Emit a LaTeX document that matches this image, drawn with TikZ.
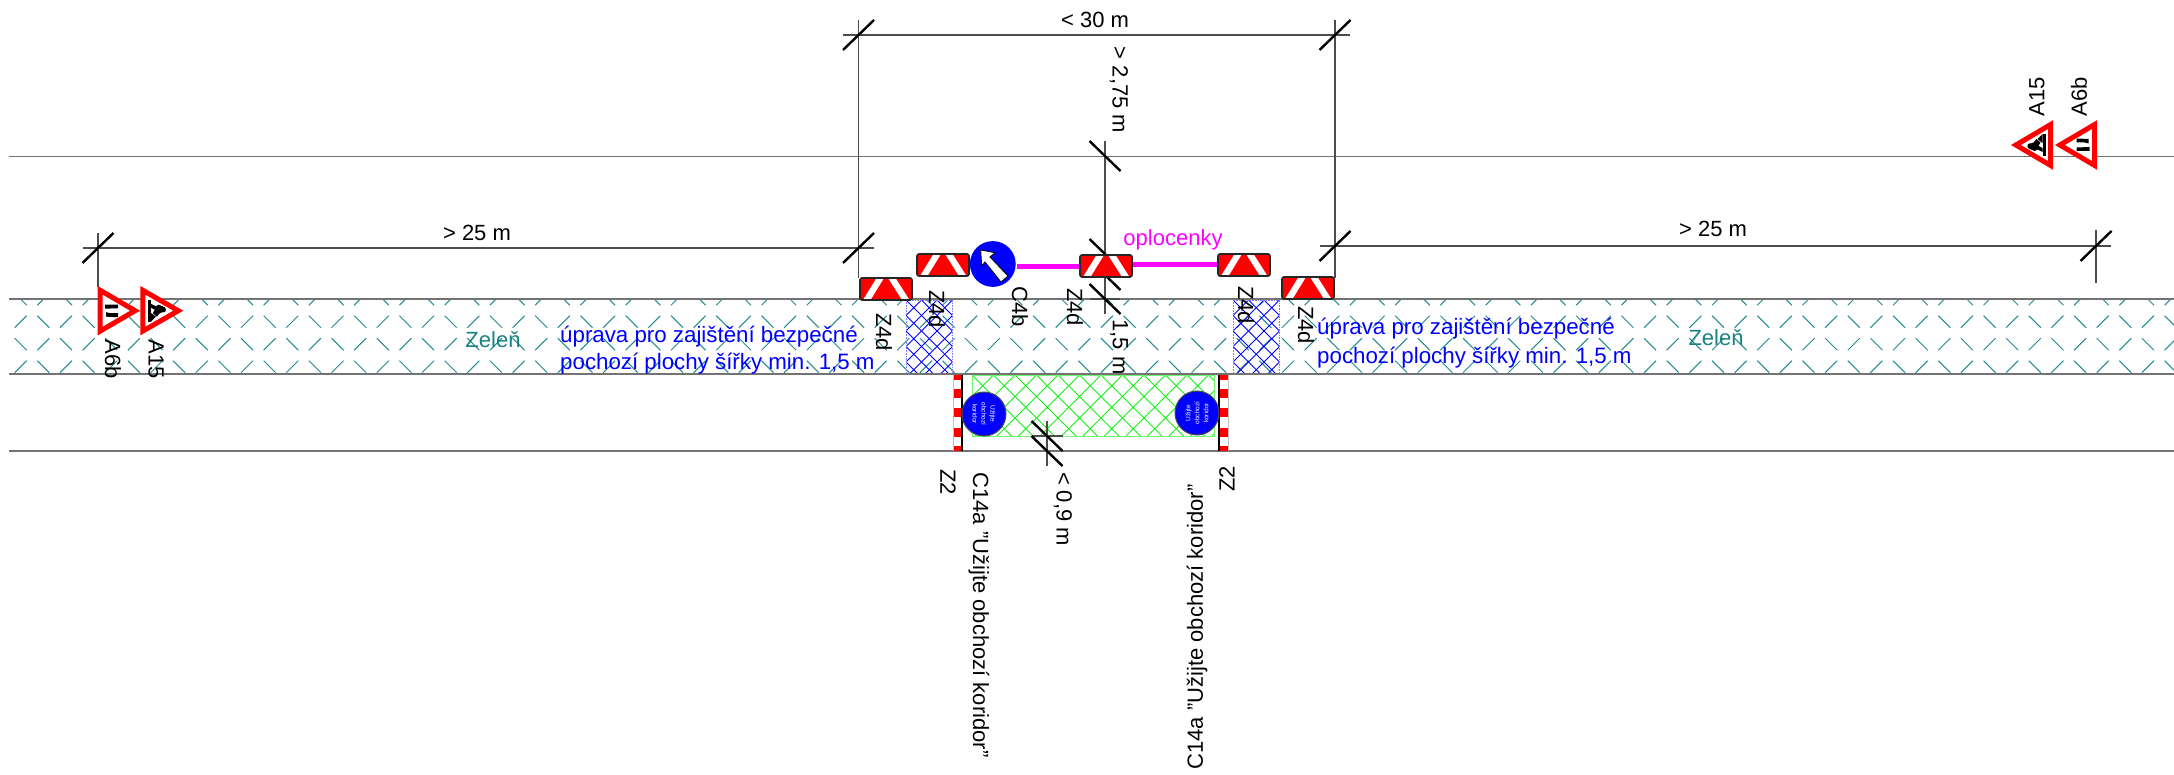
\documentclass[tikz,border=0pt]{standalone}
\usepackage{fontspec}
\setmainfont{Liberation Sans}
\definecolor{mag}{RGB}{255,0,255}
\definecolor{pureblue}{RGB}{0,0,255}
\definecolor{purered}{RGB}{255,0,0}
\definecolor{hgreen}{RGB}{20,240,20}
\definecolor{hteal}{RGB}{35,140,145}
\definecolor{tteal}{RGB}{25,130,130}
\tikzset{
 roadline/.style={draw=black!55,line width=1.3pt},
 dimline/.style={draw=black!70,line width=1.1pt},
 ticks/.style={draw=black,line width=2.4pt},
 lbl/.style={font=\fontsize{22}{22}\selectfont,inner sep=0pt,text=black},
 lblD/.style={lbl,rotate=-90},
 lblU/.style={lbl,rotate=90},
 bluetxt/.style={font=\fontsize{22.3}{26}\selectfont,inner sep=0pt,text=pureblue,anchor=west},
 greentxt/.style={font=\fontsize{22}{22}\selectfont,inner sep=0pt,text=tteal},
 fence/.style={draw=mag,line width=5pt},
 hatchline/.style={line width=1pt},
 warn/.style={draw=purered,line width=5pt,fill=white,line join=miter},
 roundsign/.style={circle,fill=pureblue,draw=black!70,line width=1pt,minimum size=44pt,inner sep=0pt},
 tinytext/.style={align=center,text=white,font=\fontsize{6.5}{9}\selectfont,inner sep=0pt},
}
\newcommand{\tickup}[2]{\draw[ticks] (#1-15.5,#2+15) -- (#1+15.5,#2-15);}
\newcommand{\tickdn}[2]{\draw[ticks] (#1-15.5,#2-15) -- (#1+15.5,#2+15);}
\newcommand{\zsign}[3]{%
 \begin{scope}[shift={(#1,#2)}]
  \fill[purered,rounded corners=2pt] (0,0) rectangle (52,22);
  \fill[white] (3,22) -- (16.5,0) -- (24,0) -- (10.5,22) -- cycle;
  \fill[white] (28,0) -- (35.5,0) -- (49.5,22) -- (42,22) -- cycle;
  \draw[black!85,line width=1.6pt,rounded corners=2pt] (0,0) rectangle (52,22);
  \coordinate (#3) at (26,11);
 \end{scope}}
\newcommand{\barrier}[3]{%
 \begin{scope}[shift={(#1,375)}]
  \fill[white] (0,0) rectangle (9,76);
  \foreach \yy/\ye in {0/5,14/23,33/42,53/62,71/76} {\fill[purered] (0,\yy) rectangle (9,\ye);}
  \draw[black!25,line width=1pt] (#3,0) -- (#3,76);
  \draw[black,line width=1.5pt] (#2,0) -- (#2,76);
 \end{scope}}
\newcommand{\workman}{%
 \fill[black] (5,-11) rectangle (8,11);
 \fill[black] (8,2) -- (8,11) -- (13,6) -- cycle;
 \fill[black] (8,-7) -- (13,-4.5) -- (16,-6) -- (22,-3.5) -- (21,1) -- (17,2.5) -- (14,6) -- (10,2.5) -- (12,-1) -- (8,-3) -- cycle;
 \fill[black] (20.5,-1) circle (2.7);}
\newcommand{\narrow}{%
 \fill[black] (0,-6) -- (13,-6) -- (13,-2.5) -- (0,-2) -- cycle;
 \fill[black] (1,6) -- (13,6.5) -- (13,2.5) -- (5,2.5) -- (1,1.5) -- cycle;}
\begin{document}
\begin{tikzpicture}[x=1pt,y=-1pt]
\useasboundingbox (0,0) rectangle (2174,775);
\fill[white] (0,0) rectangle (2174,775);
% green zone hatch
\begin{scope}
 \clip (10,299) rectangle (2174,374);
 \foreach \k in {-1,...,47} {
  \pgfmathsetmacro{\xa}{66+45.26*\k}
  \pgfmathsetmacro{\xb}{\xa+22.63}
  \foreach \yy/\ss in {299.2/-1,321.7/1,344.2/-1,366.7/1} {
   \draw[hteal,line width=1pt] (\xa-6,\yy+6*\ss) -- (\xa+6,\yy-6*\ss);
   \draw[hteal,line width=1pt] (\xb-6,\yy-6*\ss) -- (\xb+6,\yy+6*\ss);
  }
 }
\end{scope}
% blue hatch
\foreach \xl/\xr in {906/952,1233/1279} {
 \begin{scope}
  \clip (\xl,300) rectangle (\xr,374);
  \foreach \i in {-6,...,12} {
   \draw[pureblue,hatchline] (\xl+15.5*\i,300) -- ++(74,74);
   \draw[pureblue,hatchline] (\xl+15.5*\i,300) -- ++(-74,74);
  }
 \end{scope}
 \draw[pureblue!50,line width=.6pt,densely dotted] (\xl,300) rectangle (\xr,374);
}
% green hatch
\begin{scope}
 \clip (972,375) rectangle (1214,436);
 \foreach \i in {-4,...,17} {
  \draw[hgreen,hatchline] (972+21.5*\i,375) -- ++(61,61);
  \draw[hgreen,hatchline] (972+21.5*\i,375) -- ++(-61,61);
 }
\end{scope}
\draw[hgreen!60,line width=.7pt] (972,375) rectangle (1214,436);
% road lines
\coordinate (r1l) at (9,156.5); \coordinate (r1r) at (2174,156.5);
\coordinate (r2l) at (9,299); \coordinate (r2r) at (2174,299);
\coordinate (r3l) at (9,374); \coordinate (r3r) at (2174,374);
\coordinate (r4l) at (9,451); \coordinate (r4r) at (2174,451);
\draw[roadline] (r1l) -- (r1r);
\draw[roadline] (r2l) -- (r2r);
\draw[roadline] (r3l) -- (r3r);
\draw[roadline] (r4l) -- (r4r);
% dimensions
\draw[dimline] (843,35) -- (1350,35);
\draw[dimline] (858.5,20) -- (858.5,278);
\draw[dimline] (1335,20) -- (1335,278);
\draw[dimline] (1105,141) -- (1105,314);
\draw[dimline] (83,248) -- (874,248);
\draw[dimline] (98,233) -- (98,287);
\draw[dimline] (1320,246) -- (2111,246);
\draw[dimline] (2096,230) -- (2096,283);
\draw[dimline] (1090,299) -- (1120,299);
\draw[dimline] (1032,436) -- (1063,436);
\draw[dimline] (1047,421) -- (1047,466);
\tickup{858.5}{35} \tickup{1335}{35}
\tickup{98}{248} \tickup{858.5}{248}
\tickup{1335}{246} \tickup{2096}{246}
\tickdn{1105}{156} \tickdn{1105}{254} \tickdn{1105}{275} \tickdn{1105}{299}
\tickdn{1047}{436} \tickdn{1047}{451}
% fence
\coordinate (f1) at (1017,267); \coordinate (f2) at (1080,267);
\coordinate (f3) at (1132,265); \coordinate (f4) at (1218,265);
\draw[fence] (f1) -- (f2);
\draw[fence] (f3) -- (f4);
% Z4d signs
\zsign{860}{278}{s1}
\zsign{917}{254}{s2}
\zsign{1080}{255}{s3}
\zsign{1218}{254}{s4}
\zsign{1282}{277}{s5}
% C4b
\fill[pureblue] (992.8,264) circle (22.9);
\draw[fill=white,draw=black,line width=.8pt,line join=miter]
 (980.7,250) -- (995,252.7) -- (990,257) -- (1008,276) -- (1001,282) -- (985,262) -- (981.7,266) -- cycle;
% barriers
\barrier{953}{9}{0}
\barrier{1219}{0}{9}
% C14a
\node[roundsign] (c1) at (984,414) {};
\node[roundsign] (c2) at (1197,413) {};
\node[rotate=-90,tinytext] at (c1) {Užijte\\obchozí\\koridor};
\node[rotate=90,tinytext] at (c2) {Užijte\\obchozí\\koridor};
% triangles left
\begin{scope}[shift={(100.2,310.7)}]
 \draw[warn] (0,-20.4) -- (34.9,0) -- (0,20.4) -- cycle;
 \begin{scope}[shift={(5,0)}]\narrow\end{scope}
\end{scope}
\begin{scope}[shift={(142.8,310.7)}]
 \draw[warn] (0,-20.4) -- (35.5,0) -- (0,20.4) -- cycle;
 \workman
\end{scope}
% triangles right
\begin{scope}[shift={(2050.5,145)}]
 \draw[warn] (0,-20.4) -- (-34.6,0) -- (0,20.4) -- cycle;
 \begin{scope}[rotate=180]\workman\end{scope}
\end{scope}
\begin{scope}[shift={(2094.5,145)}]
 \draw[warn] (0,-20.4) -- (-34.6,0) -- (0,20.4) -- cycle;
 \begin{scope}[shift={(-5,0)},rotate=180]\narrow\end{scope}
\end{scope}
% labels
\node[lbl] (t30) at (1095,20) {< 30 m};
\node[lblD] (t275) at (1119,90) {> 2,75 m};
\node[lblD] (t15) at (1119,347) {1,5 m};
\node[lbl] (t25l) at (477,233) {> 25 m};
\node[lbl] (t25r) at (1713,229) {> 25 m};
\node[lblD] (z1) at (884,332) {Z4d};
\node[lblD] (z2) at (937,309) {Z4d};
\node[lblD] (z3) at (1075,307) {Z4d};
\node[lblD] (z4) at (1246,305) {Z4d};
\node[lblD] (z5) at (1306,325) {Z4d};
\node[lblD] (c4) at (1020,307) {C4b};
\node[lblD] (a6l) at (113,359) {A6b};
\node[lblD] (a15l) at (156,359) {A15};
\node[lblU] (a15r) at (2037,97) {A15};
\node[lblU] (a6r) at (2079,97) {A6b};
\node[lblD] (z2l) at (948,482) {Z2};
\node[lblU] (z2r) at (1227,479) {Z2};
\node[lblD] (tc1) at (979,615) {C14a "Užijte obchozí koridor"};
\node[lblU] (tc2) at (1197,627) {C14a "Užijte obchozí koridor"};
\node[lblD] (t09) at (1063,509) {< 0,9 m};
\node[font=\fontsize{22}{22}\selectfont,inner sep=0pt,text=mag] (opl) at (1173,240) {oplocenky};
\node[greentxt] (zl) at (493,340) {Zeleň};
\node[greentxt] (zr) at (1716,338) {Zeleň};
\node[bluetxt] (bl1) at (560,337) {úprava pro zajištění bezpečné};
\node[bluetxt] (bl2) at (560,364) {pochozí plochy šířky min. 1,5 m};
\node[bluetxt] (br1) at (1317,329) {úprava pro zajištění bezpečné};
\node[bluetxt] (br2) at (1317,358) {pochozí plochy šířky min. 1,5 m};
\end{tikzpicture}
\end{document}
